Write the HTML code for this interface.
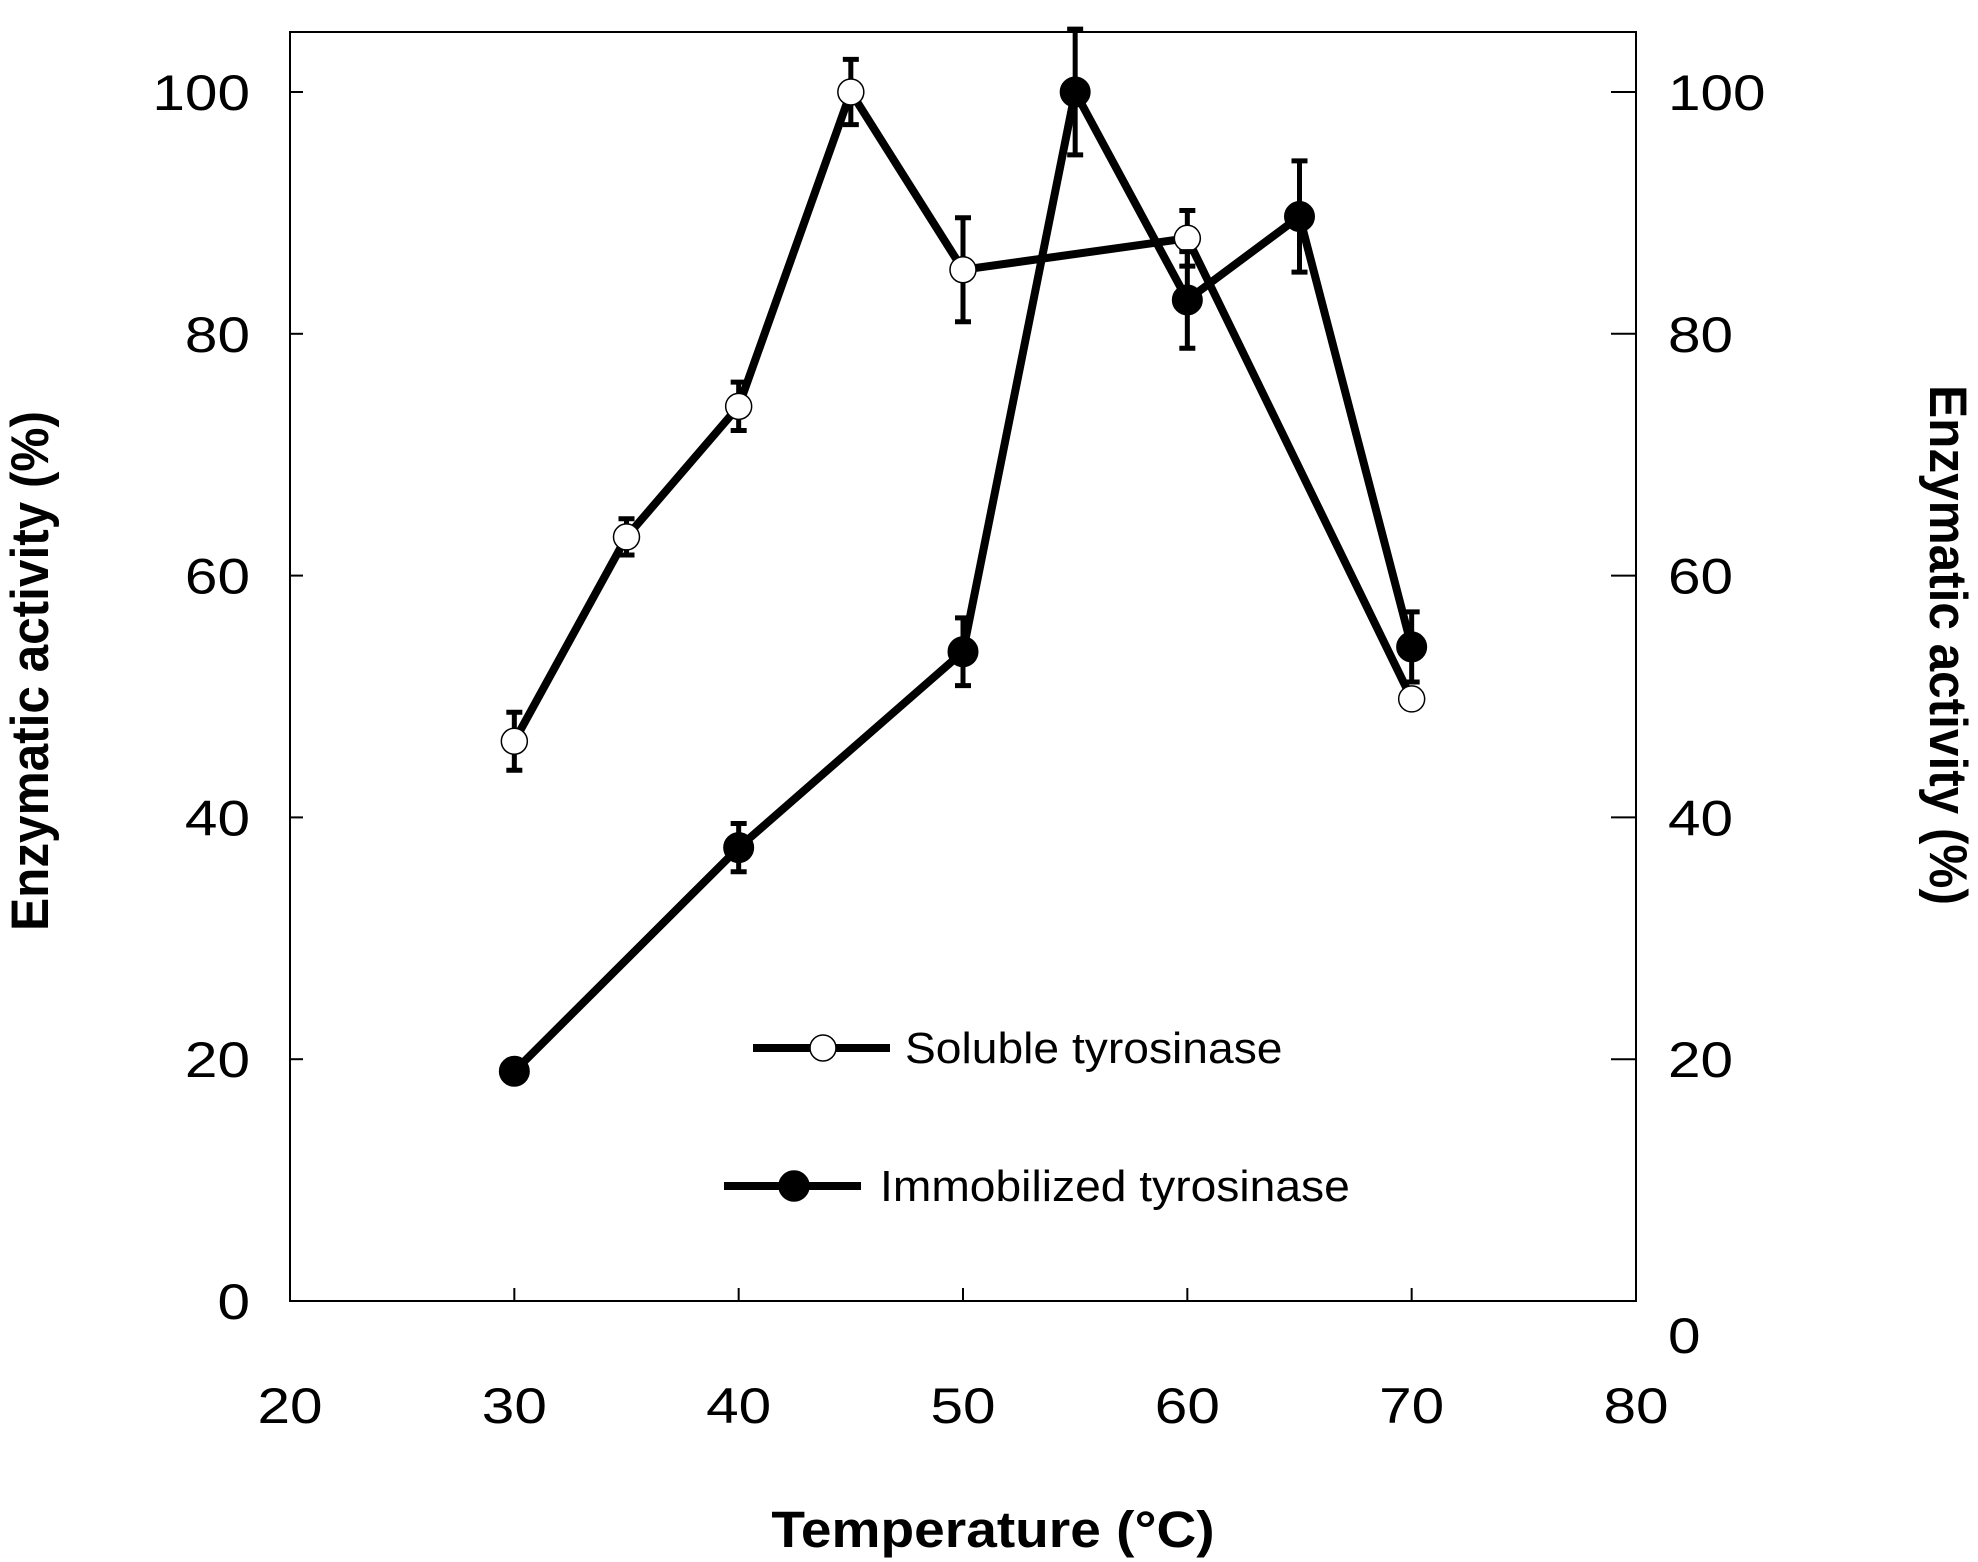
<!DOCTYPE html>
<html><head><meta charset="utf-8"><style>
html,body{margin:0;padding:0;background:#fff;}
svg{display:block;font-family:"Liberation Sans",Arial,sans-serif;}
</style></head><body>
<svg id="chart" width="1978" height="1562" viewBox="0 0 1978 1562"></svg>
<script>
const solubleTemps=[30,35,40,45,50,60,70];
const solubleVals=[46.3,63.2,74,100,85.3,87.9,49.8];
const solubleErr=[2.4,1.5,2,2.7,4.3,2.3,0.5];
const immobTemps=[30,40,50,55,60,65,70];
const immobVals=[19,37.5,53.7,100,82.8,89.7,54.1];
const immobErr=[0.5,2,2.8,5.2,4,4.6,2.9];
const xTicks=[20,30,40,50,60,70,80];
const yTicks=[0,20,40,60,80,100];

const L=290,R=1636,T=32,B=1301;
const sx=v=>L+(v-20)*(R-L)/60;
const sy=v=>1301-v*(1301-92)/100;
const svg=document.getElementById('chart');
const NS='http://www.w3.org/2000/svg';
function mk(tag,attrs,parent){const e=document.createElementNS(NS,tag);for(const k in attrs)e.setAttribute(k,attrs[k]);(parent||svg).appendChild(e);return e;}
function txt(x,y,size,anchor,sxs,content,extra){
  const t=mk('text',Object.assign({x:0,y:0,'font-size':size,'text-anchor':anchor,transform:`translate(${x},${y}) scale(${sxs},1)`},extra||{}));
  t.textContent=content;return t;
}

const frame=mk('rect',{x:L,y:T,width:R-L,height:B-T,fill:'none',stroke:'#000','stroke-width':2});



xTicks.forEach(v=>{
  const t=mk('line',{x1:sx(v),x2:sx(v),y1:B,y2:B-13,stroke:'#000','stroke-width':2});
  
  
  const l=txt(sx(v),1423,50,'middle',1.17,v);
  
  
});
yTicks.forEach(v=>{
  const t=mk('line',{x1:L,x2:L+13,y1:sy(v),y2:sy(v),stroke:'#000','stroke-width':2});
  
  
  const l=txt(250,sy(v)+18,50,'end',1.17,v);
  
  
  const t2=mk('line',{x1:R-25,x2:R,y1:sy(v),y2:sy(v),stroke:'#000','stroke-width':2});
  
  
  const l2=txt(1668,(v===0?1353:sy(v)+18),50,'start',1.17,v);
  
  
});

const xt=txt(993,1547,51,'middle',1.08,'Temperature (°C)',{'font-weight':'bold'});


const yl=mk('text',{x:0,y:0,'font-size':50,'font-weight':'bold','text-anchor':'middle',transform:'translate(48,671) rotate(-90) scale(0.99,1.05)'});
yl.textContent='Enzymatic activity (%)';


const yr=mk('text',{x:0,y:0,'font-size':50,'font-weight':'bold','text-anchor':'middle',transform:'translate(1930,645) rotate(90) scale(0.99,1.05)'});
yr.textContent='Enzymatic activity (%)';



function series(xs,ys,es,filled,name){
  const g=mk('g',{});
  
  
  const pl=mk('polyline',{points:xs.map((x,i)=>sx(x)+','+sy(ys[i])).join(' '),fill:'none',stroke:'#000','stroke-width':8,'stroke-linejoin':'miter'},g);
  
  
  xs.forEach((x,i)=>{
    const cx=sx(x),top=sy(ys[i]+es[i]),bot=sy(ys[i]-es[i]);
    const eb=mk('path',{d:`M${cx},${top}V${bot}M${cx-8},${top}H${cx+8}M${cx-8},${bot}H${cx+8}`,stroke:'#000','stroke-width':5,fill:'none'},g);
    
    
  });
  xs.forEach((x,i)=>{
    const c=mk('circle',{cx:sx(x),cy:sy(ys[i]),r:filled?15:13,fill:filled?'#000':'#fff',stroke:'#000','stroke-width':filled?1:1.5},g);
    
    
  });
}
series(solubleTemps,solubleVals,solubleErr,false,'soluble');
series(immobTemps,immobVals,immobErr,true,'immobilized');

function legend(x1,x2,y,cx,filled,tx,label,name){
  const g=mk('g',{});
  
  
  mk('line',{x1:x1,x2:x2,y1:y,y2:y,stroke:'#000','stroke-width':8},g);
  mk('circle',{cx:cx,cy:y,r:filled?15:13,fill:filled?'#000':'#fff',stroke:'#000','stroke-width':1.5},g);
  const t=mk('text',{x:0,y:0,'font-size':44,transform:`translate(${tx},${y+15}) scale(1.05,1)`},g);
  t.textContent=label;
}
legend(753,890,1048,823,false,905,'Soluble tyrosinase','soluble');
legend(724,861,1186,794,true,880,'Immobilized tyrosinase','immobilized');
</script>
</body></html>
